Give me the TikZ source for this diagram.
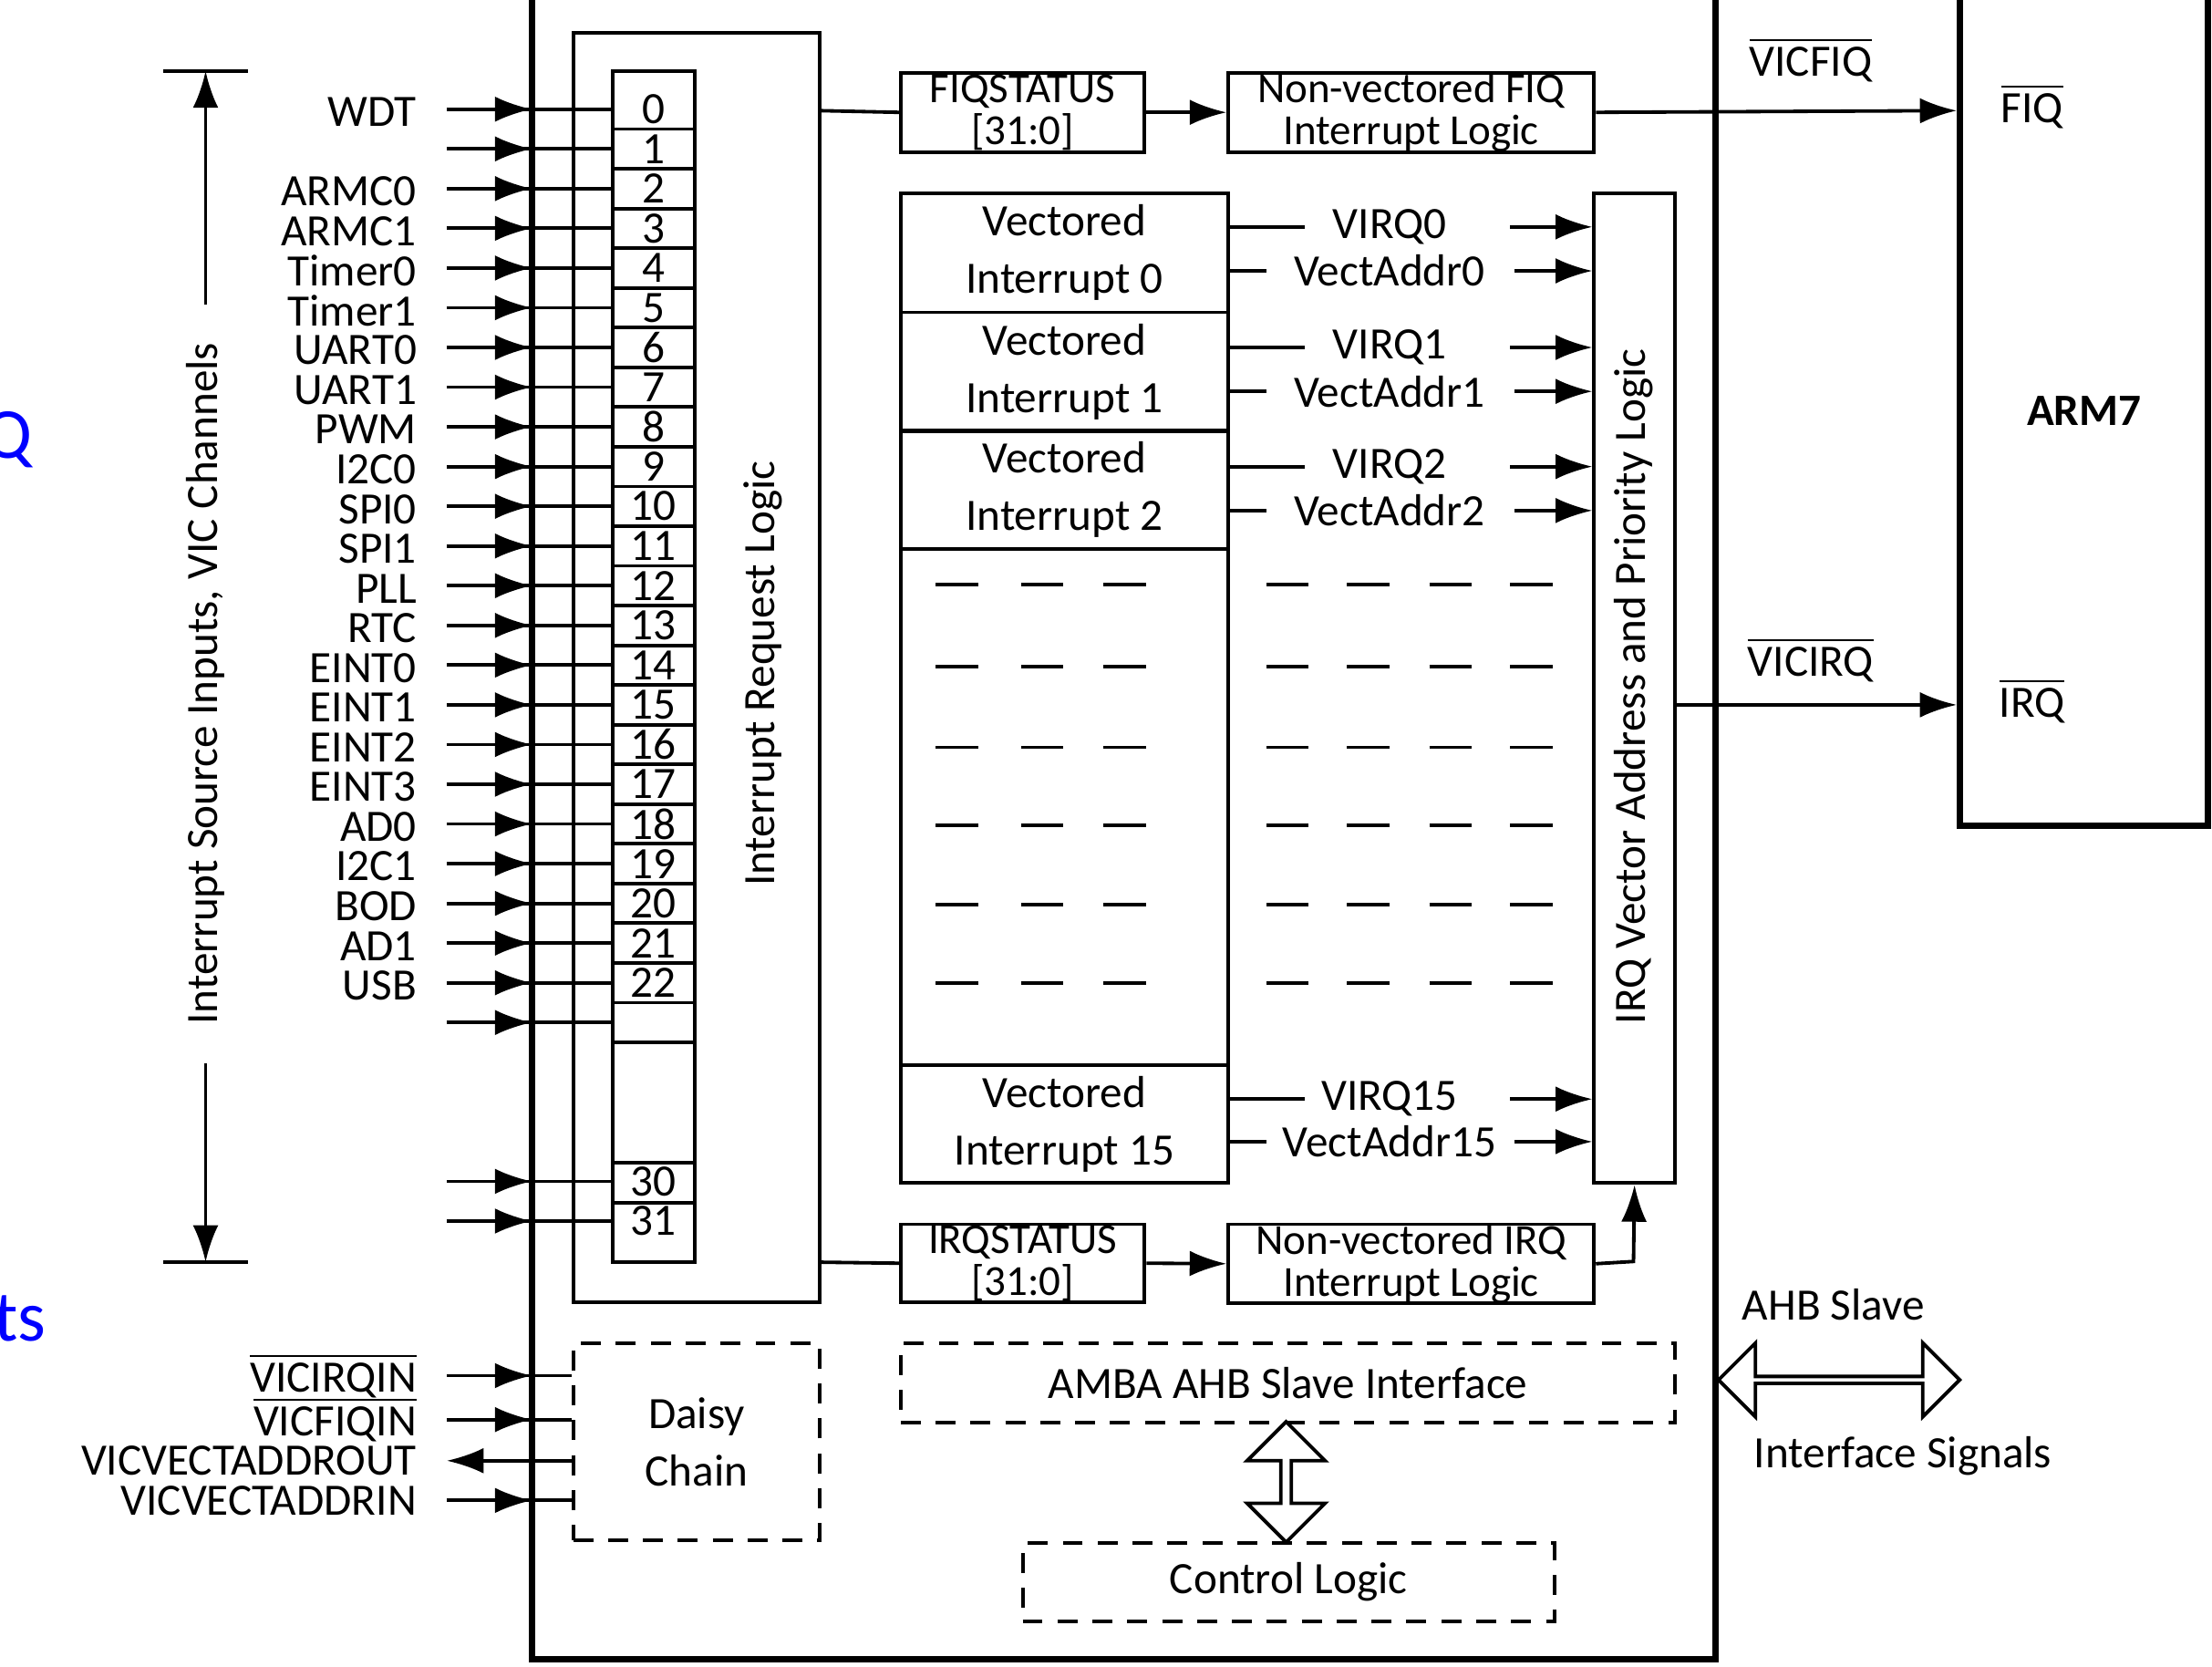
\documentclass[tikz,border=0pt]{standalone}
\usepackage{fontspec}
\setmainfont{Carlito}
\usetikzlibrary{arrows.meta,shapes.arrows,calc}
\tikzset{>={Latex[length=2.6mm,width=1.8mm]}}
\tikzset{box/.style={draw,line width=0.7pt,anchor=north west,inner sep=0pt,align=center,font=\fontsize{9}{11.5}\selectfont},
  sbox/.style={box,font=\fontsize{8.6}{8.4}\selectfont},
  dbox/.style={box,dash pattern=on 4pt off 3pt},
  lbl/.style={font=\fontsize{9}{10}\selectfont,inner sep=1pt},
  sig/.style={line width=0.7pt}}
\begin{document}
\begin{tikzpicture}[x=1cm,y=-1cm]
  \useasboundingbox (0,0) rectangle (15.6,11.75);
  % Outer blocks
  \draw[line width=1.3pt] (3.75,-0.1) rectangle (12.10,11.70);
  \node[box,line width=1.3pt,minimum width=1.75cm,minimum height=5.85cm] (arm) at (13.80,-0.05) {\bfseries ARM7};
  \node[blue,font=\Large,anchor=west,inner sep=0pt] at (-0.12,3.10) {Q};
  \node[blue,font=\Large,anchor=west,inner sep=0pt] at (-0.05,9.30) {ts};
  % Request logic and channels
  \node[box,minimum width=1.74cm,minimum height=8.95cm] (irl) at (4.03,0.22) {};
  \node[lbl,rotate=90] at (5.38,4.75) {Interrupt Request Logic};
  \draw[sig] (4.32,0.50) rectangle (4.90,8.90);
  \foreach \i in {0,...,23} \draw[sig] (4.32,0.91+0.28*\i) -- (4.90,0.91+0.28*\i);
  \draw[sig] (4.32,8.20) -- (4.90,8.20) (4.32,8.48) -- (4.90,8.48);
  \foreach \i in {0,...,22} \node[lbl] at (4.61,0.77+0.28*\i) {\i};
  \node[lbl] at (4.61,8.33) {30};
  \node[lbl] at (4.61,8.61) {31};
  \foreach \y in {0.77,1.05,...,7.30,8.33,8.61}{
    \coordinate (s) at (3.15,\y); \coordinate (h) at (3.75,\y); \coordinate (e) at (4.32,\y);
    \draw[sig] (s) -- (e);
    \draw[sig,->] ($(h)+(-0.3,0)$) -- (h);}
  \foreach \n/\i in {WDT/0,ARMC0/2,ARMC1/3,Timer0/4,Timer1/5,UART0/6,UART1/7,PWM/8,I2C0/9,SPI0/10,SPI1/11,PLL/12,RTC/13,EINT0/14,EINT1/15,EINT2/16,EINT3/17,AD0/18,I2C1/19,BOD/20,AD1/21,USB/22}
    \node[lbl,anchor=east] at (2.98,0.79+0.28*\i) {\n};
  % Channel range
  \coordinate (rt) at (1.45,0.50); \coordinate (rb) at (1.45,8.90);
  \draw[sig] (1.15,0.50) -- (1.75,0.50) (1.15,8.90) -- (1.75,8.90);
  \draw[sig,->] (1.45,2.15) -- (rt);
  \draw[sig,->] (1.45,7.50) -- (rb);
  \node[lbl,rotate=90] at (1.45,4.82) {Interrupt Source Inputs, VIC Channels};
  % FIQ path
  \node[sbox,minimum width=1.72cm,minimum height=0.56cm] (fiqs) at (6.34,0.50) {FIQSTATUS\\{}[31:0]};
  \node[sbox,minimum width=2.58cm,minimum height=0.56cm] (nfiq) at (8.65,0.50) {Non-vectored FIQ\\Interrupt Logic};
  \draw[sig] (5.77,0.78) -- (fiqs.west);
  \draw[sig,->] (fiqs.east) -- (nfiq.west);
  \draw[sig,->] (nfiq.east) -- (13.80,0.78);
  \node[lbl] at (12.77,0.42) {$\overline{\mbox{VICFIQ}}$};
  \node[lbl] at (14.33,0.75) {$\overline{\mbox{FIQ}}$};
  % Vectored slots
  \node[box,minimum width=2.31cm,minimum height=0.84cm] (v0) at (6.34,1.35) {Vectored\\Interrupt 0};
  \node[box,minimum width=2.31cm,minimum height=0.84cm] (v1) at (6.34,2.19) {Vectored\\Interrupt 1};
  \node[box,minimum width=2.31cm,minimum height=0.84cm] (v2) at (6.34,3.02) {Vectored\\Interrupt 2};
  \node[box,minimum width=2.31cm,minimum height=3.64cm] (vx) at (6.34,3.86) {};
  \node[box,minimum width=2.31cm,minimum height=0.83cm] (v15) at (6.34,7.50) {Vectored\\Interrupt 15};
  \node[box,minimum width=0.57cm,minimum height=6.98cm] (vpl) at (11.23,1.35) {};
  \node[lbl,rotate=90] at (11.52,4.84) {IRQ Vector Address and Priority Logic};
  \foreach \s/\y in {VIRQ0/1.60,VIRQ1/2.45,VIRQ2/3.29,VIRQ15/7.75}{
    \node[lbl] (\s) at (9.80,\y) {\s};
    \draw[sig] (8.65,\y) -- (9.20,\y);
    \draw[sig,->] (10.65,\y) -- (11.23,\y);}
  \foreach \s/\y in {VectAddr0/1.91,VectAddr1/2.76,VectAddr2/3.60,VectAddr15/8.05}{
    \node[lbl] (\s) at (9.80,\y) {\s};
    \draw[sig] (8.65,\y) -- (8.93,\y);
    \draw[sig,->] (10.68,\y) -- (11.23,\y);}
  \foreach \y in {4.12,4.70,5.27,5.82,6.38,6.93}{
    \foreach \x in {6.60,7.20,7.78,8.93,9.50,10.08,10.65} \draw[sig] (\x,\y) -- ++(0.30,0);}
  % IRQ path
  \node[sbox,minimum width=1.72cm,minimum height=0.55cm] (irqs) at (6.34,8.62) {IRQSTATUS\\{}[31:0]};
  \node[sbox,minimum width=2.58cm,minimum height=0.55cm] (nirq) at (8.65,8.62) {Non-vectored IRQ\\Interrupt Logic};
  \draw[sig] (5.77,8.90) -- (irqs.west);
  \draw[sig,->] (irqs.east) -- (nirq.west);
  \draw[sig,->] (nirq.east) -- (11.52,8.895) -- (vpl.south);
  \draw[sig,->] (11.80,4.97) -- (13.80,4.97);
  \node[lbl] at (12.77,4.65) {$\overline{\mbox{VICIRQ}}$};
  \node[lbl] at (14.33,4.94) {$\overline{\mbox{IRQ}}$};
  % Bus interface
  \node[dbox,minimum width=1.74cm,minimum height=1.39cm] (dc) at (4.03,9.46) {Daisy\\Chain};
  \node[dbox,minimum width=5.46cm,minimum height=0.56cm] (amba) at (6.34,9.46) {AMBA AHB Slave Interface};
  \node[dbox,minimum width=3.75cm,minimum height=0.55cm] (ctl) at (7.20,10.87) {Control Logic};
  \node[draw,sig,double arrow,minimum height=0.85cm,minimum width=0.55cm,double arrow head extend=0.08cm,inner sep=0pt,rotate=90] (dv) at (9.07,10.45) {};
  \node[draw,sig,double arrow,minimum height=1.70cm,minimum width=0.52cm,double arrow head extend=0.12cm,inner sep=0pt] (dh) at (12.97,9.73) {};
  \node[lbl] at (12.93,9.20) {AHB Slave};
  \node[lbl] at (13.42,10.27) {Interface Signals};
  \foreach \s/\y in {{$\overline{\mbox{VICIRQIN}}$}/9.70,{$\overline{\mbox{VICFIQIN}}$}/10.01,VICVECTADDRIN/10.58}{
    \node[lbl,anchor=east] at (2.98,\y) {\s};
    \draw[sig] (3.15,\y) -- (4.03,\y);
    \draw[sig,->] (3.45,\y) -- (3.75,\y);}
  \node[lbl,anchor=east] at (2.98,10.30) {VICVECTADDROUT};
  \draw[sig,->] (4.03,10.30) -- (3.15,10.30);
\end{tikzpicture}
\end{document}
